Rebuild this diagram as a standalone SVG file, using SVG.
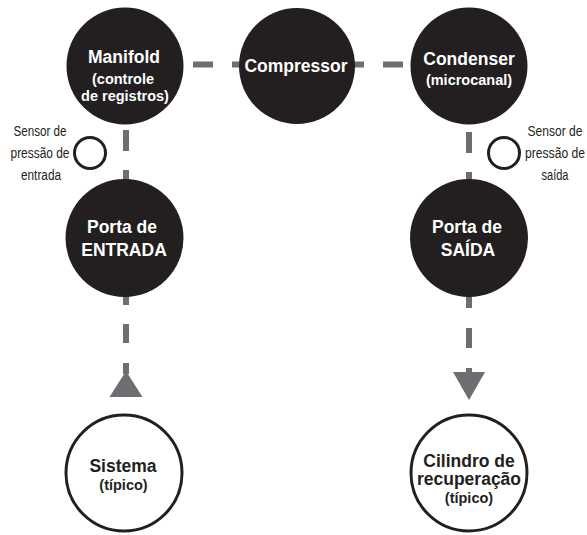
<svg xmlns="http://www.w3.org/2000/svg" width="587" height="535" viewBox="0 0 587 535">
<style>
.dark{fill:#231f20}
.light{fill:#ffffff;stroke:#231f20;stroke-width:3}
.sensor{fill:#ffffff;stroke:#231f20;stroke-width:3}
.conn{fill:none;stroke:#6d6e71;stroke-width:6}
.head{fill:#6d6e71}
.t{font-family:"Liberation Sans",Arial,sans-serif;font-weight:700;text-anchor:middle}
.w{fill:#ffffff}
.k{fill:#231f20}
.big{font-size:17.5px}
.sub{font-size:14.5px}
.lbl{font-family:"Liberation Sans",Arial,sans-serif;font-size:15.5px;fill:#231f20;text-anchor:middle}
</style>
<rect width="587" height="535" fill="#ffffff"/>
<g id="connectors">
<path class="conn" d="M193 64.5H213 M232 64.5H252 M345 64.5H364 M383 64.5H403"/>
<path class="conn" d="M126 130V151 M126 170V190 M126 285V305 M126 324V343 M126 363V374"/>
<polygon class="head" points="126,371 142.5,397 109.5,397"/>
<path class="conn" d="M469 132V153 M469 172V190 M469 285V308 M469 328V348 M469 368V374"/>
<polygon class="head" points="453,372 485,372 469,400"/>
</g>
<g id="manifold">
<circle class="dark" cx="125" cy="66" r="58.5"/>
<text class="t w big" x="124" y="63">Manifold</text>
<text class="t w sub" x="123" y="84">(controle</text>
<text class="t w sub" x="125" y="101">de registros)</text>
</g>
<g id="compressor">
<circle class="dark" cx="297" cy="66" r="58"/>
<text class="t w big" x="296" y="72">Compressor</text>
</g>
<g id="condenser">
<circle class="dark" cx="469" cy="66" r="58.5"/>
<text class="t w big" x="469" y="65">Condenser</text>
<text class="t w sub" x="469" y="85">(microcanal)</text>
</g>
<g id="sensor-entrada">
<circle class="sensor" cx="90" cy="153" r="15.5"/>
<text class="lbl" x="40" y="136" textLength="53" lengthAdjust="spacingAndGlyphs">Sensor de</text>
<text class="lbl" x="40" y="158" textLength="59" lengthAdjust="spacingAndGlyphs">pressão de</text>
<text class="lbl" x="41" y="180" textLength="40" lengthAdjust="spacingAndGlyphs">entrada</text>
</g>
<g id="sensor-saida">
<circle class="sensor" cx="504" cy="153" r="15.5"/>
<text class="lbl" x="555" y="136" textLength="55" lengthAdjust="spacingAndGlyphs">Sensor de</text>
<text class="lbl" x="555" y="158" textLength="60" lengthAdjust="spacingAndGlyphs">pressão de</text>
<text class="lbl" x="555" y="180" textLength="27" lengthAdjust="spacingAndGlyphs">saída</text>
</g>
<g id="porta-entrada">
<circle class="dark" cx="124.5" cy="238" r="59"/>
<text class="t w big" x="122" y="233">Porta de</text>
<text class="t w big" x="124" y="256">ENTRADA</text>
</g>
<g id="porta-saida">
<circle class="dark" cx="469" cy="238" r="59"/>
<text class="t w big" x="467" y="233">Porta de</text>
<text class="t w big" x="468" y="256">SAÍDA</text>
</g>
<g id="sistema">
<circle class="light" cx="124" cy="473" r="58"/>
<text class="t k big" x="123" y="472">Sistema</text>
<text class="t k sub" x="123.5" y="490">(típico)</text>
</g>
<g id="cilindro">
<circle class="light" cx="469" cy="473" r="58"/>
<text class="t k big" x="469" y="466.5">Cilindro de</text>
<text class="t k big" x="469" y="485">recuperação</text>
<text class="t k sub" x="469" y="503">(típico)</text>
</g>
</svg>
